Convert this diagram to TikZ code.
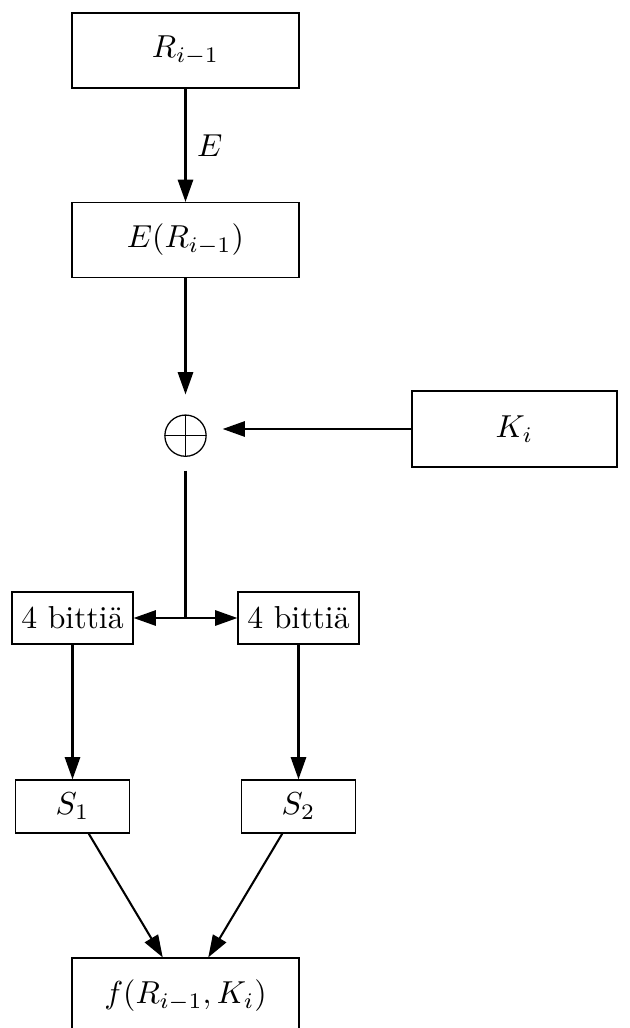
\documentclass[tikz,border=0pt]{standalone}
\usetikzlibrary{arrows.meta}
\begin{document}
\begin{tikzpicture}[x=0.315pt,y=-0.315pt,
  box/.style={draw, line width=0.4pt, inner sep=0pt},
  big/.style={box, minimum width=71.5pt, minimum height=23.6pt},
  small/.style={box, minimum width=38.1pt, minimum height=16.4pt},
  sbox/.style={box, minimum width=35.9pt, minimum height=16.7pt},
  arr/.style={line width=0.65pt, -{Triangle[length=7pt,width=4.8pt]}},
  ln/.style={line width=0.65pt}]
\useasboundingbox (0,0) rectangle (629,1028);
\node[big] (R) at (185.5,50.5) {$R_{i-1}$};
\node[big] (E) at (185.5,240) {$E(R_{i-1})$};
\node[inner sep=0pt, minimum width=23pt, minimum height=23.6pt,
  path picture={
    \draw[line width=0.4pt] (path picture bounding box.center) ++(0,-1pt) circle[radius=6.5pt];
    \draw[line width=0.4pt] (path picture bounding box.center) ++(-6.5pt,-1pt) -- ++(13pt,0);
    \draw[line width=0.4pt] (path picture bounding box.center) ++(0,5.5pt) -- ++(0,-13pt);
  }] (X) at (185.5,432.5) {};
\node[box, minimum width=64.6pt, minimum height=23.9pt] (K) at (514.5,429) {$K_i$};
\coordinate (split) at (185.5,618);
\node[small] (B1) at (72.5,618) {4 bittiä};
\node[small] (B2) at (298.5,618) {4 bittiä};
\node[sbox] (S1) at (72.5,806.5) {$S_1$};
\node[sbox] (S2) at (298.5,806.5) {$S_2$};
\node[big] (F) at (185.5,995.5) {$f(R_{i-1},K_i)$};
\draw[arr] (R) -- node[right] {$E$} (E);
\draw[arr] (E) -- (X);
\draw[arr] (K.west) -- (X.east |- K.west);
\draw[ln] (X) -- (split);
\draw[arr] (split) -- (B1);
\draw[arr] (split) -- (B2);
\draw[arr] (B1) -- (S1);
\draw[arr] (B2) -- (S2);
\draw[arr] (S1) -- (F);
\draw[arr] (S2) -- (F);
\end{tikzpicture}
\end{document}
